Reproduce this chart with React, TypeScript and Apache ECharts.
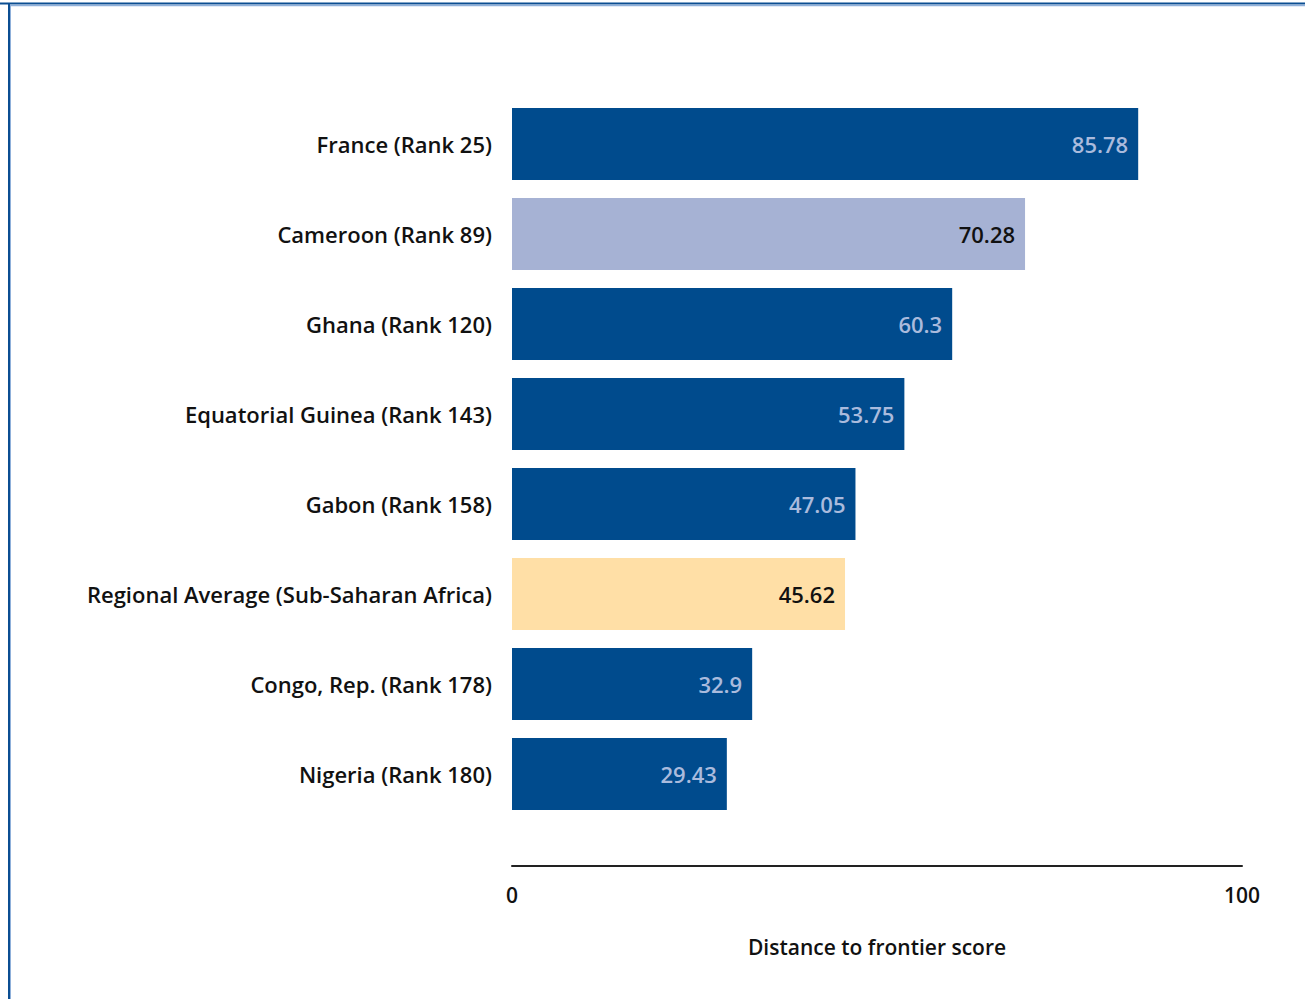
import React, { useEffect, useRef } from "react";
import * as echarts from "echarts";

const categories = [
  "France (Rank 25)",
  "Cameroon (Rank 89)",
  "Ghana (Rank 120)",
  "Equatorial Guinea (Rank 143)",
  "Gabon (Rank 158)",
  "Regional Average (Sub-Saharan Africa)",
  "Congo, Rep. (Rank 178)",
  "Nigeria (Rank 180)",
];
const values = [85.78, 70.28, 60.3, 53.75, 47.05, 45.62, 32.9, 29.43];
const highlight = ["normal", "country", "normal", "normal", "normal", "region", "normal", "normal"];
const xTicks = [0, 100];

const DARK = "#004B8D";
const LIGHT = "#A6B2D4";
const REGION = "#FFDFA6";
const FONT = "'Open Sans', 'DejaVu Sans', sans-serif";
const FS = 22;

export default function App() {
  const ref = useRef<HTMLDivElement>(null);
  useEffect(() => {
    if (!ref.current) return;
    const chart = echarts.init(ref.current, undefined, { renderer: "svg" });
    const data = values.map((v, i) => {
      const kind = highlight[i];
      const color = kind === "country" ? LIGHT : kind === "region" ? REGION : DARK;
      const labelColor = kind === "normal" ? "#AABBDD" : "#111111";
      return {
        value: v,
        itemStyle: { color },
        label: { color: labelColor },
      };
    });
    chart.setOption({
      animation: false,
      backgroundColor: "#FFFFFF",
      grid: { left: 512, width: 730, top: 99, height: 720, containLabel: false },
      xAxis: {
        type: "value",
        min: xTicks[0],
        max: xTicks[1],
        interval: 100,
        offset: 47,
        axisLine: { show: true, lineStyle: { color: "#222222", width: 2 } },
        axisTick: { show: false },
        splitLine: { show: false },
        axisLabel: {
          color: "#111111",
          fontFamily: FONT,
          fontSize: 21,
          fontWeight: 600,
          margin: 18,
        },
        name: "Distance to frontier score",
        nameLocation: "middle",
        nameGap: 70,
        nameTextStyle: {
          color: "#111111",
          fontFamily: FONT,
          fontSize: 21,
          fontWeight: 600,
        },
      },
      yAxis: {
        type: "category",
        data: categories,
        inverse: true,
        axisLine: { show: false },
        axisTick: { show: false },
        splitLine: { show: false },
        axisLabel: {
          color: "#111111",
          fontFamily: FONT,
          fontSize: FS,
          fontWeight: 600,
          margin: 20,
        },
      },
      series: [
        {
          type: "bar",
          data,
          barCategoryGap: "20%",
          label: {
            show: true,
            position: "insideRight",
            distance: 10,
            fontFamily: FONT,
            fontSize: FS,
            fontWeight: 600,
          },
        },
      ],
      graphic: [
        {
          type: "line",
          shape: { x1: 0, y1: 3.5, x2: 1305, y2: 3.5 },
          style: { stroke: "#0B4E92", lineWidth: 2 },
        },
        {
          type: "line",
          shape: { x1: 10, y1: 5.5, x2: 1305, y2: 5.5 },
          style: { stroke: "#8FB0DA", lineWidth: 1.5 },
        },
        {
          type: "line",
          shape: { x1: 9, y1: 3, x2: 9, y2: 999 },
          style: { stroke: "#0B4E92", lineWidth: 2 },
        },
        {
          type: "line",
          shape: { x1: 10.5, y1: 5, x2: 10.5, y2: 999 },
          style: { stroke: "#8FB0DA", lineWidth: 1 },
        },
      ],
    });
    return () => chart.dispose();
  }, []);
  return (
    <div
      ref={ref}
      style={{ position: "absolute", left: 0, top: 0, width: 1305, height: 999 }}
    />
  );
}
